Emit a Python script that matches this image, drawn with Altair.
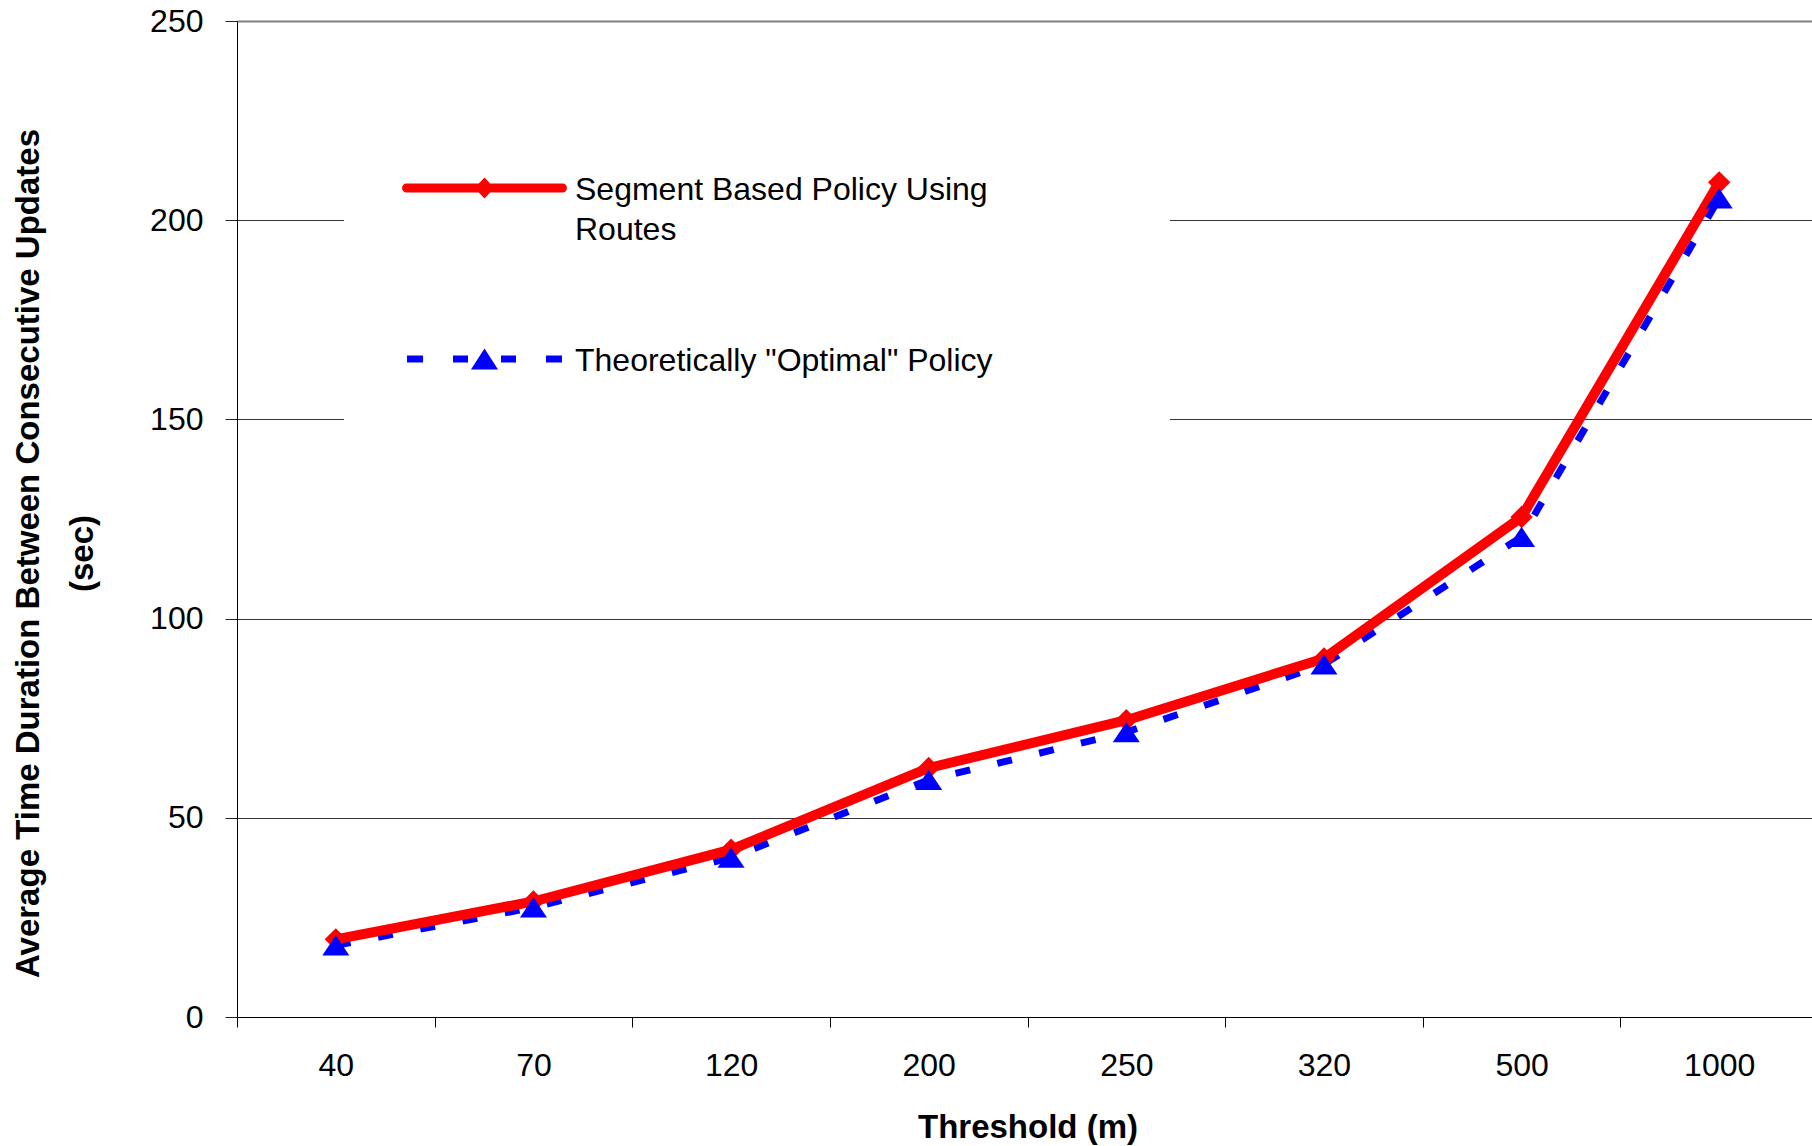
import altair as alt
import pandas as pd

thresholds = ["40", "70", "120", "200", "250", "320", "500", "1000"]
segment_policy = [19.5, 29.0, 42.0, 62.5, 74.5, 90.0, 125.5, 209.5]
optimal_policy = [18.0, 27.5, 40.0, 59.5, 71.5, 88.5, 120.5, 205.5]
series_names = ["Segment Based Policy Using Routes", 'Theoretically "Optimal" Policy']
series_colors = ["#FF0000", "#0000FF"]
y_ticks = [0, 50, 100, 150, 200, 250]

df = pd.DataFrame({
    "threshold": thresholds * 2,
    "value": segment_policy + optimal_policy,
    "series": [series_names[0]] * len(thresholds) + [series_names[1]] * len(thresholds),
})

# legend glyphs (unit square paths): red line + diamond, blue dashes + triangle
legend_red = ("M-0.945,-0.1935 L-0.069,-0.1935 L0,-0.266 L0.069,-0.1935 L0.945,-0.1935 "
              "A0.0545,0.0545 0 0 1 0.945,-0.0845 L0.069,-0.0845 L0,-0.012 L-0.069,-0.0845 "
              "L-0.945,-0.0845 A0.0545,0.0545 0 0 1 -0.945,-0.1935 Z")
legend_blue = ("M-0.939,-0.1814 L-0.745,-0.1814 L-0.745,-0.0966 L-0.939,-0.0966 Z "
               "M-0.382,-0.1814 L-0.2,-0.1814 L-0.2,-0.0966 L-0.382,-0.0966 Z "
               "M0,-0.266 L0.164,-0.012 L-0.164,-0.012 Z "
               "M0.2,-0.1814 L0.382,-0.1814 L0.382,-0.0966 L0.2,-0.0966 Z "
               "M0.745,-0.1814 L0.939,-0.1814 L0.939,-0.0966 L0.745,-0.0966 Z "
               "M7.6,-0.139 Z M0,0.61 Z")
triangle_path = "M0,-0.75 L1,0.75 L-1,0.75 Z"

FONT = "Liberation Sans"

x_enc = alt.X(
    "threshold:N",
    sort=thresholds,
    scale=alt.Scale(type="band", paddingInner=0, paddingOuter=0, range=[0, 1581]),
    axis=alt.Axis(
        title="Threshold (m)",
        labelAngle=0, tickBand="extent", tickSize=10, labelPadding=23,
        labelFont=FONT, labelFontSize=32, labelColor="black",
        titleFont=FONT, titleFontSize=33, titleFontWeight="bold", titleColor="black",
        titleBaseline="middle", titleY=110,
        domainColor="black", tickColor="black", grid=False,
    ),
)
y_enc = alt.Y(
    "value:Q",
    scale=alt.Scale(domain=[0, 250], nice=False),
    axis=alt.Axis(
        title=["Average Time Duration Between Consecutive Updates", "(sec)"],
        values=y_ticks, tickSize=12, labelPadding=22,
        labelFont=FONT, labelFontSize=32, labelColor="black",
        titleFont=FONT, titleFontSize=33, titleFontWeight="bold", titleColor="black",
        titleLineHeight=54, titleAngle=270, titleAlign="center", titleBaseline="middle",
        titleX=-209, titleY=532,
        domainColor="black", tickColor="#222222",
        grid=True,
        gridColor={"condition": {"test": "datum.value === 250", "value": "#808080"}, "value": "#333333"},
        gridWidth={"condition": {"test": "datum.value === 250", "value": 2}, "value": 1.2},
    ),
)

base = alt.Chart(df)
red_only = alt.FieldEqualPredicate(field="series", equal=series_names[0])
blue_only = alt.FieldEqualPredicate(field="series", equal=series_names[1])

blue_line = base.transform_filter(blue_only).mark_line(
    color=series_colors[1], strokeWidth=7, strokeDash=[15, 28]
).encode(x=x_enc, y=y_enc)
red_line = base.transform_filter(red_only).mark_line(
    color=series_colors[0], strokeWidth=10
).encode(x=x_enc, y=y_enc)
red_pts = base.transform_filter(red_only).mark_point(
    shape="diamond", filled=True, color=series_colors[0], size=500, opacity=1
).encode(x=x_enc, y=y_enc)
blue_pts = base.transform_filter(blue_only).mark_point(
    shape=triangle_path, filled=True, color=series_colors[1], size=729, opacity=1
).encode(x=x_enc, y=y_enc)

legend_def = alt.Legend(
    title=None, orient="none", legendX=107, legendY=38, padding=58,
    fillColor="white", symbolSize=27225, symbolStrokeWidth=0, symbolOpacity=1,
    labelFont=FONT, labelFontSize=32, labelColor="black", labelBaseline="alphabetic",
    labelOffset=8, labelLimit=0, rowPadding=42,
    labelExpr="datum.label == 'Segment Based Policy Using Routes' ? ['Segment Based Policy Using', 'Routes'] : datum.label",
)
legend_layer = base.mark_point(filled=True, opacity=0, size=1).encode(
    x=x_enc, y=y_enc,
    color=alt.Color("series:N", scale=alt.Scale(domain=series_names, range=series_colors), legend=legend_def),
    shape=alt.Shape("series:N", scale=alt.Scale(domain=series_names, range=[legend_red, legend_blue]), legend=legend_def),
)

chart = alt.layer(blue_line, red_line, red_pts, blue_pts, legend_layer).properties(
    width=1575, height=996,
    padding={"left": 237, "top": 21, "right": 0, "bottom": 129},
    autosize=alt.AutoSizeParams(type="none"),
    background="white",
).configure_view(stroke=None).configure(
    style={"guide-label": {"lineHeight": 40}}
)

chart.save("out.html", embed_options={"renderer": "svg", "actions": False})
